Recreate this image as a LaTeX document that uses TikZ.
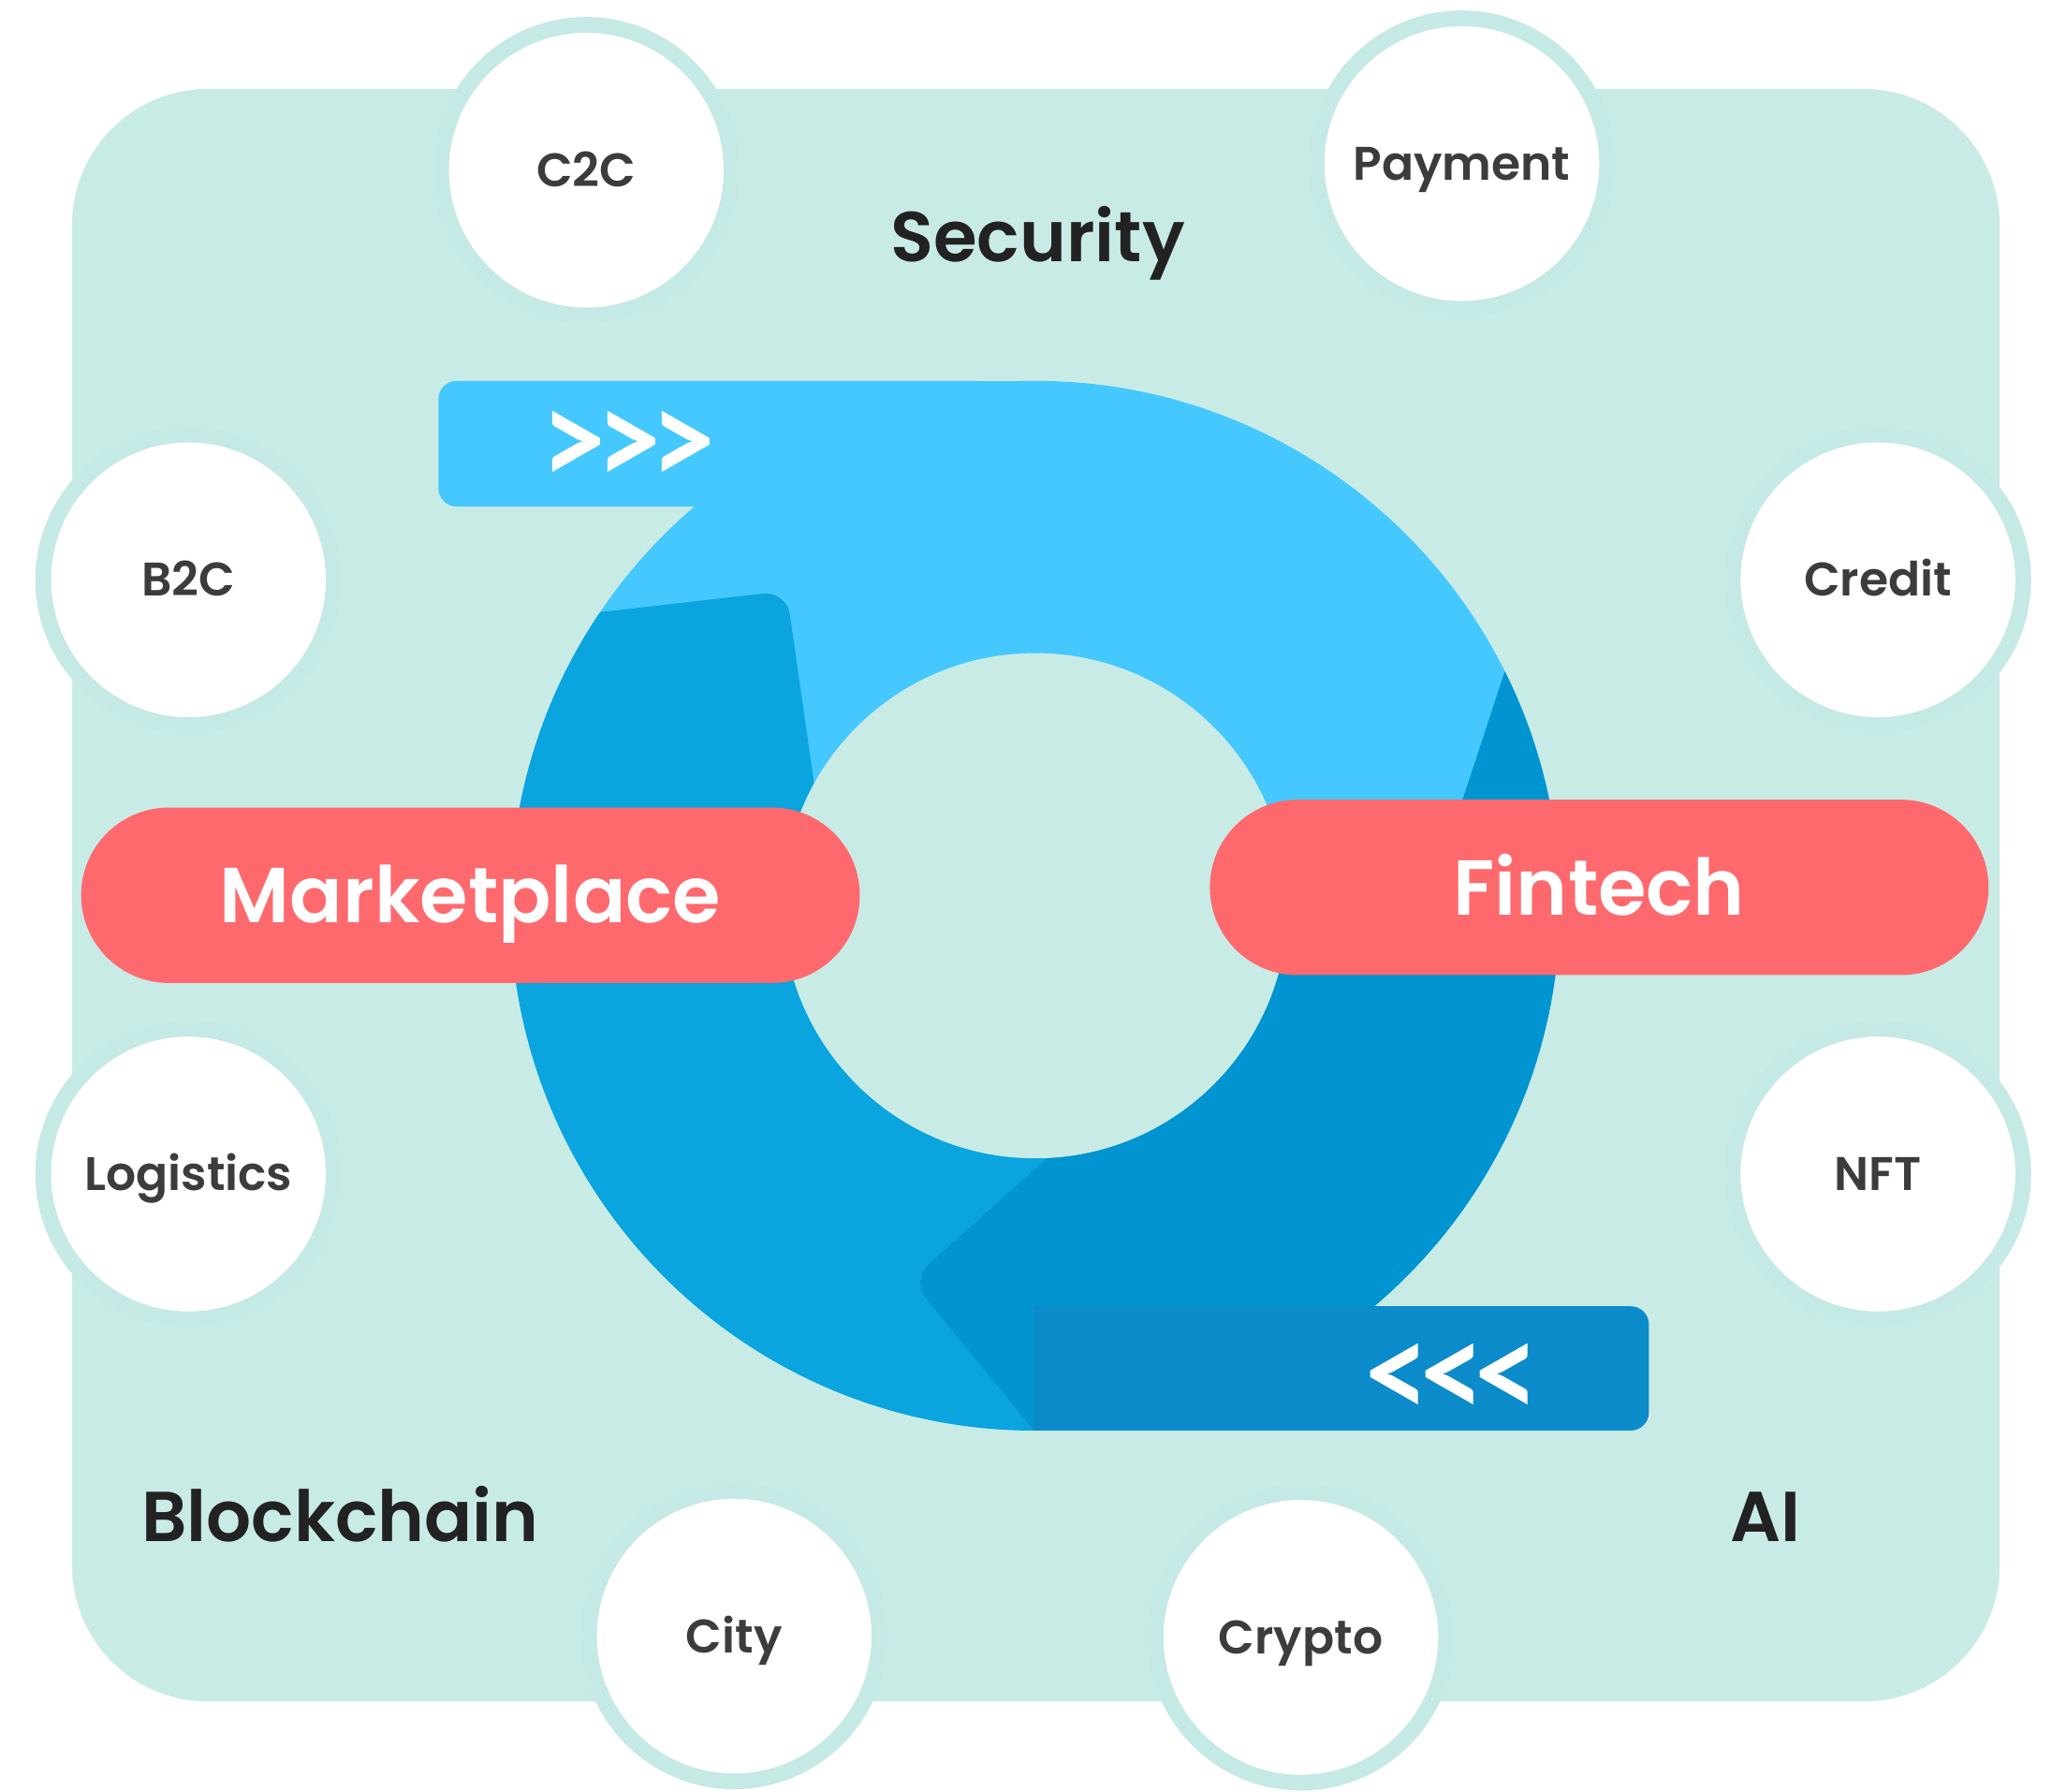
\documentclass[tikz,border=0pt]{standalone}
\usepackage{fontspec}
\setmainfont{Poppins}[BoldFont={Poppins SemiBold}]
\newfontfamily\chevfont{Lato}
\usetikzlibrary{shapes.misc}
\definecolor{bgteal}{HTML}{C9EBE6}
\definecolor{ringteal}{HTML}{C5E9E5}
\definecolor{lblue}{HTML}{45C8FE}
\definecolor{mblue}{HTML}{0AA4DE}
\definecolor{dblue}{HTML}{0094D0}
\definecolor{barblue}{HTML}{0C8BCB}
\definecolor{pillred}{HTML}{FE696E}
\definecolor{txtdark}{HTML}{3C3C3C}
\definecolor{txtbig}{HTML}{222222}
\begin{document}
\begin{tikzpicture}[x=0.5pt,y=-0.5pt,
  bubble/.style={circle, fill=white, draw=ringteal, line width=6pt, minimum size=111pt,
    inner sep=0pt, text=txtdark, font=\bfseries\fontsize{18}{20}\selectfont,
    text height=12.6pt, text depth=0pt},
  biglabel/.style={anchor=base, inner sep=0pt, text=txtbig, font=\bfseries\fontsize{27}{30}\selectfont},
  pill/.style={rounded rectangle, fill=pillred, minimum width=297.5pt, minimum height=67pt,
    inner sep=0pt, text=white, font=\bfseries\fontsize{29.8}{33}\selectfont,
    text height=21pt, text depth=0pt},
  chev/.style={inner sep=0pt, text=white, font=\chevfont\bfseries\fontsize{46}{48}\selectfont}]
\useasboundingbox (0,0) rectangle (1568,1369);
\fill[white] (0,0) rectangle (1568,1369);
\fill[bgteal, rounded corners=52pt] (55,68) rectangle (1528,1300);
% bubbles
\node[bubble] (c2c) at (448,130) {C2C};
\node[bubble] (pay) at (1117,125) {Payment};
\node[bubble] (b2c) at (144,443) {B2C};
\node[bubble] (cred) at (1435,443) {Credit};
\node[bubble] (logi) at (144,897) {Logistics};
\node[bubble] (nft) at (1435,897) {NFT};
\node[bubble] (city) at (561,1250) {City};
\node[bubble] (cryp) at (994,1251) {Crypto};
% big labels
\node[biglabel] (sec) at (793,200) {Security};
\node[biglabel] (blk) at (260,1178) {Blockchain};
\node[biglabel] (ai) at (1349,1178) {AI};
% ring
\fill[lblue] (791,692) circle[radius=401];
\begin{scope}
  \clip (791,692) circle[radius=401];
  \fill[mblue, rounded corners=9pt] (280,488) -- (601,451.5) -- (628,640) -- (840,849)
    -- (696,978) -- (812,1120) -- (250,1120) -- cycle;
  \fill[dblue, rounded corners=9pt] (1163,473) -- (1113,625) -- (975,725) -- (840,849)
    -- (696,978) -- (812,1120) -- (1300,1120) -- (1300,473) -- cycle;
\end{scope}
\fill[bgteal] (791,692) circle[radius=193];
% top bar
\fill[lblue, rounded corners=7pt] (335,291) rectangle (760,387);
\fill[lblue] (600,291) rectangle (791,387);
% bottom bar
\fill[barblue, rounded corners=7pt] (900,998) rectangle (1260,1093);
\fill[barblue] (790,998) rectangle (1000,1093);
\node[chev] (fwd) at (481,343) {\scalebox{1}[1.1]{{>}\kern-5.8pt{>}\kern-5.8pt{>}}};
\node[chev] (bwd) at (1109,1055) {\scalebox{1}[1.1]{{<}\kern-5.8pt{<}\kern-5.8pt{<}}};
% pills
\node[pill] (mkt) at (359.5,684) {Marketplace};
\node[pill] (fin) at (1222,678) {Fintech};
\end{tikzpicture}
\end{document}
